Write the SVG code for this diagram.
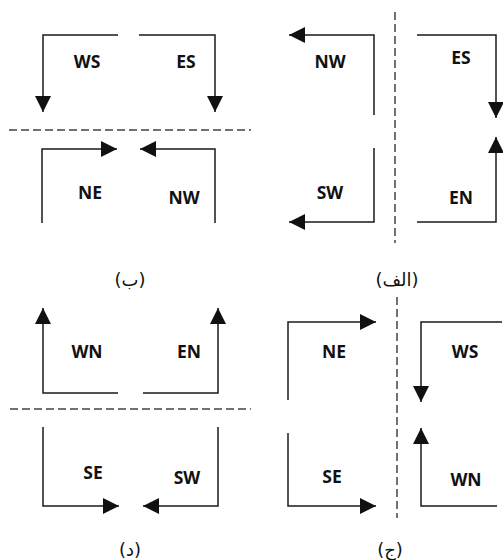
<svg xmlns="http://www.w3.org/2000/svg" width="503" height="560" viewBox="0 0 503 560">
  <style>
    .lbl { font-family: "Open Sans", "Liberation Sans", sans-serif; font-weight: 700; font-size: 17.5px; fill: #111; text-anchor: middle; }
    .cap { font-family: "DejaVu Sans", "Noto Sans", sans-serif; font-size: 18px; fill: #111; text-anchor: middle; }
    .turn { fill: none; stroke: #1a1a1a; stroke-width: 1.5; marker-end: url(#head); }
    .divider { fill: none; stroke: #444; stroke-width: 1.5; stroke-dasharray: 8 4; }
  </style>
  <defs>
    <marker id="head" viewBox="0 0 16 16" refX="16" refY="8" markerWidth="16" markerHeight="16" markerUnits="userSpaceOnUse" orient="auto">
      <path d="M0,0 L16,8 L0,16 Z" fill="#111"/>
    </marker>
  </defs>

  <rect width="503" height="560" fill="#fff"/>

  <!-- lane dividers -->
  <g id="dividers">
    <line class="divider" x1="9" y1="130" x2="251" y2="130"/>
    <line class="divider" x1="395" y1="12" x2="395" y2="243"/>
    <line class="divider" x1="10" y1="409" x2="251" y2="409"/>
    <line class="divider" x1="397" y1="297" x2="397" y2="518"/>
  </g>

  <!-- turning movements -->
  <g id="connectors">
    <!-- panel (ب) -->
    <polyline class="turn" points="118,35 43,35 43,112"/>
    <polyline class="turn" points="139,35 215,35 215,112"/>
    <polyline class="turn" points="42,223 42,149 117,149"/>
    <polyline class="turn" points="215,223 215,149 140,149"/>
    <!-- panel (الف) -->
    <polyline class="turn" points="374,115 374,35 289,35"/>
    <polyline class="turn" points="374,148 374,222 289,222"/>
    <polyline class="turn" points="417,35 496,35 496,118"/>
    <polyline class="turn" points="417,222 496,222 496,137"/>
    <!-- panel (د) -->
    <polyline class="turn" points="118,393 43,393 43,308"/>
    <polyline class="turn" points="143,393 218,393 218,308"/>
    <polyline class="turn" points="43,427 43,506 119,506"/>
    <polyline class="turn" points="218,427 218,506 143,506"/>
    <!-- panel (ج) -->
    <polyline class="turn" points="288,400 288,322 376,322"/>
    <polyline class="turn" points="288,433 288,506 376,506"/>
    <polyline class="turn" points="502,322 421,322 421,402"/>
    <polyline class="turn" points="497,506 421,506 421,428"/>
  </g>

  <!-- panel (ب) labels -->
  <g id="b-ws"><text class="lbl" x="87" y="68">WS</text></g>
  <g id="b-es"><text class="lbl" x="186" y="68">ES</text></g>
  <g id="b-ne"><text class="lbl" x="90" y="199">NE</text></g>
  <g id="b-nw"><text class="lbl" x="184" y="204">NW</text></g>
  <g id="b-caption"><text class="cap" x="130" y="286">(ب)</text></g>

  <!-- panel (الف) labels -->
  <g id="a-nw"><text class="lbl" x="330" y="68">NW</text></g>
  <g id="a-es"><text class="lbl" x="461" y="64">ES</text></g>
  <g id="a-sw"><text class="lbl" x="330" y="199">SW</text></g>
  <g id="a-en"><text class="lbl" x="461" y="204">EN</text></g>
  <g id="a-caption"><text class="cap" x="397" y="286">(الف)</text></g>

  <!-- panel (د) labels -->
  <g id="d-wn"><text class="lbl" x="87" y="358">WN</text></g>
  <g id="d-en"><text class="lbl" x="189" y="358">EN</text></g>
  <g id="d-se"><text class="lbl" x="93" y="479">SE</text></g>
  <g id="d-sw"><text class="lbl" x="187" y="484">SW</text></g>
  <g id="d-caption"><text class="cap" x="130" y="556">(د)</text></g>

  <!-- panel (ج) labels -->
  <g id="j-ne"><text class="lbl" x="334" y="358">NE</text></g>
  <g id="j-ws"><text class="lbl" x="465" y="358">WS</text></g>
  <g id="j-se"><text class="lbl" x="332" y="483">SE</text></g>
  <g id="j-wn"><text class="lbl" x="466" y="486">WN</text></g>
  <g id="j-caption"><text class="cap" x="390" y="556">(ج)</text></g>
</svg>
